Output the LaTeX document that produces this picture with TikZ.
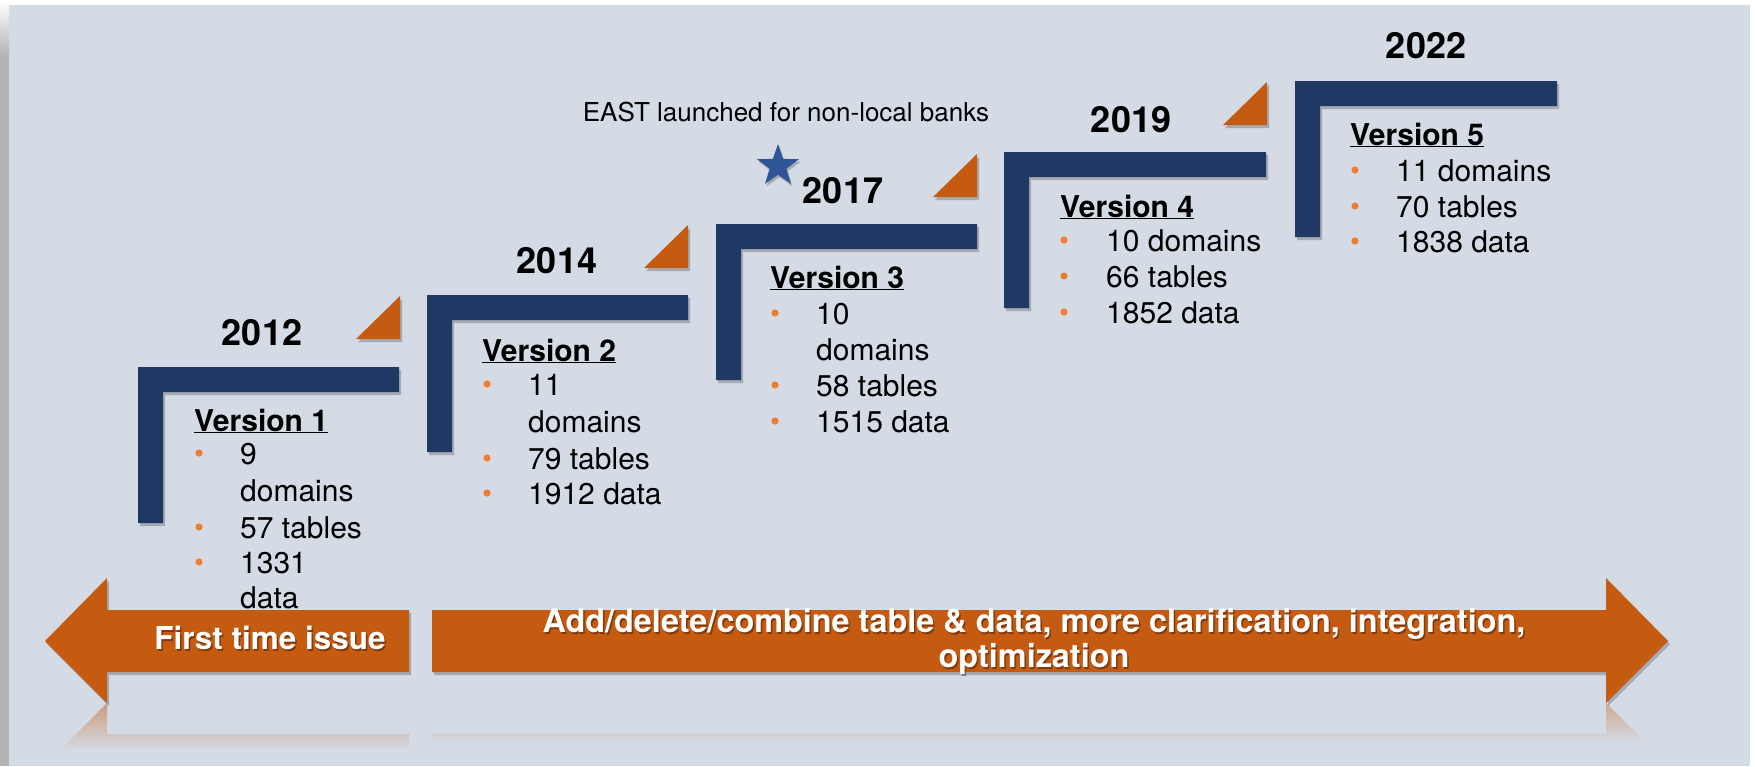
\documentclass[tikz,border=0pt]{standalone}
\usepackage{fontspec}
\setmainfont{TeX Gyre Heros}
\usetikzlibrary{shapes.geometric,shadows}
\definecolor{bgc}{HTML}{D4DBE5}
\definecolor{navy}{HTML}{203864}
\definecolor{orgc}{HTML}{C55A11}
\definecolor{bulc}{HTML}{ED7D31}
\definecolor{starc}{HTML}{2F5597}
\definecolor{stripc}{HTML}{B4B4B4}
\tikzset{
  shad/.style={drop shadow={shadow xshift=2pt, shadow yshift=-3pt, opacity=0.22, fill=black}},
  lstep/.style={fill=navy, shad},
  tri/.style={fill=orgc, shad},
  bigarrow/.style={fill=orgc, shad},
  year/.style={anchor=base, inner sep=0pt, font=\bfseries\fontsize{36}{40}\selectfont},
  vtitle/.style={anchor=base west, inner sep=0pt, font=\bfseries\fontsize{30}{36}\selectfont},
  body/.style={anchor=base west, inner sep=0pt, font=\fontsize{30}{36}\selectfont},
  atext/.style={anchor=base, inner sep=0pt, text=white, font=\bfseries\fontsize{31.5}{36}\selectfont},
  ashadow/.style={anchor=base, inner sep=0pt, text=black, opacity=0.35, font=\bfseries\fontsize{31.5}{36}\selectfont},
  btext/.style={atext, font=\bfseries\fontsize{32.4}{36}\selectfont},
  bshadow/.style={ashadow, font=\bfseries\fontsize{32.4}{36}\selectfont},
}
\newcommand\stepL[4]{\fill[lstep] (#1,#2) -- (#3,#2) -- (#3,#2+25) -- (#1+25,#2+25) -- (#1+25,#4) -- (#1,#4) -- cycle;}
\newcommand\triR[2]{\fill[tri] (#1-44,#2) -- (#1,#2) -- (#1,#2-43) -- cycle;}
\newcommand\blt[2]{\fill[bulc] (#1,#2-11) circle[radius=3.6pt];}
\begin{document}
\begin{tikzpicture}[x=1pt,y=-1pt]
\useasboundingbox (0,0) rectangle (1755,766);
% background
\fill[white] (0,0) rectangle (1755,766);
\fill[bgc] (9,5) rectangle (1750,766);
\fill[stripc] (0,55) rectangle (9,766);
\shade[top color=white, bottom color=stripc] (0,0) rectangle (9,56);

% reflections
\shade[top color=orgc!50!bgc, bottom color=bgc] (107,703) -- (60,750) -- (409,750) -- (409,734) -- (107,734) -- cycle;
\shade[top color=orgc!40!bgc, bottom color=bgc] (1606,703) -- (1645,742) -- (432,742) -- (432,734) -- (1606,734) -- cycle;

% steps
\stepL{138}{367}{399}{523}
\stepL{427}{295}{688}{452}
\stepL{716}{224}{977}{380}
\stepL{1004}{152}{1266}{308}
\stepL{1295}{81}{1557}{237}

% triangles
\triR{400}{339}
\triR{688}{268}
\triR{977}{197}
\triR{1267}{125}

% years
\node[year] (y1) at (262,345) {2012};
\node[year] (y2) at (557,273) {2014};
\node[year] (y3) at (843,203) {2017};
\node[year] (y4) at (1131,132) {2019};
\node[year] (y5) at (1426,58) {2022};

% star and note
\node[star, star points=5, star point ratio=2.5, minimum size=44pt, inner sep=0pt, fill=starc, drop shadow={shadow xshift=1.5pt, shadow yshift=-2.5pt, opacity=0.22, fill=black}] (star) at (778,166) {};
\node[anchor=base, inner sep=0pt, font=\fontsize{26}{30}\selectfont] (east) at (786,121) {EAST launched for non-local banks};

% version 1
\node[vtitle] (v1) at (194,431) {\underline{Version 1}};
\node[body] (v1a) at (240,464) {9};
\node[body] (v1b) at (240,501) {domains};
\node[body] (v1c) at (240,538) {57 tables};
\node[body] (v1d) at (240,573) {1331};
\node[body] (v1e) at (240,608) {data};
\blt{199}{464}\blt{199}{538}\blt{199}{573}

% version 2
\node[vtitle] (v2) at (482,361) {\underline{Version 2}};
\node[body] (v2a) at (528,395) {11};
\node[body] (v2b) at (528,432) {domains};
\node[body] (v2c) at (528,469) {79 tables};
\node[body] (v2d) at (528,504) {1912 data};
\blt{487}{395}\blt{487}{469}\blt{487}{504}

% version 3
\node[vtitle] (v3) at (770,288) {\underline{Version 3}};
\node[body] (v3a) at (816,324) {10};
\node[body] (v3b) at (816,360) {domains};
\node[body] (v3c) at (816,396) {58 tables};
\node[body] (v3d) at (816,432) {1515 data};
\blt{775}{324}\blt{775}{396}\blt{775}{432}

% version 4
\node[vtitle] (v4) at (1060,217) {\underline{Version 4}};
\node[body] (v4a) at (1106,251) {10 domains};
\node[body] (v4b) at (1106,287) {66 tables};
\node[body] (v4c) at (1106,323) {1852 data};
\blt{1064}{251}\blt{1064}{287}\blt{1064}{323}

% version 5
\node[vtitle] (v5) at (1350,145) {\underline{Version 5}};
\node[body] (v5a) at (1396,181) {11 domains};
\node[body] (v5b) at (1396,217) {70 tables};
\node[body] (v5c) at (1396,252) {1838 data};
\blt{1355}{181}\blt{1355}{217}\blt{1355}{252}

% big arrows
\fill[bigarrow] (45,641) -- (107,578) -- (107,610) -- (409,610) -- (409,672) -- (107,672) -- (107,703) -- cycle;
\fill[bigarrow] (432,610) -- (1606,610) -- (1606,578) -- (1668,641) -- (1606,703) -- (1606,672) -- (432,672) -- cycle;

\node[ashadow] (fts) at (271.5,651.5) {First time issue};
\node[atext] (ft) at (270,649) {First time issue};
\node[bshadow] (a1s) at (1035.5,634.5) {Add/delete/combine table \& data, more clarification, integration,};
\node[btext] (a1) at (1034,632) {Add/delete/combine table \& data, more clarification, integration,};
\node[bshadow] (a2s) at (1035.5,669.5) {optimization};
\node[btext] (a2) at (1034,667) {optimization};
\end{tikzpicture}
\end{document}
